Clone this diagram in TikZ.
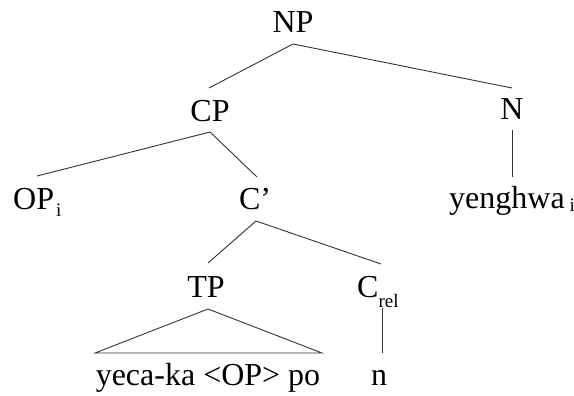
\documentclass[tikz,border=0pt]{standalone}
\usepackage{fontspec}
\setmainfont{Liberation Serif}
\newcommand\lowsub[2][6]{\raisebox{-#1pt}{\fontsize{19}{20}\selectfont #2}}
\begin{document}
\begin{tikzpicture}[x=1pt,y=-1pt,
  lbl/.style={anchor=base, inner sep=0pt, font=\fontsize{32}{38}\selectfont},
  edge/.style={line width=0.9pt, draw=black!80}]
\useasboundingbox (0,0) rectangle (574,396);
% labels
\node[lbl] (NP) at (293,33) {NP};
\node[lbl] (CP) at (210,122) {CP};
\node[lbl] (N) at (512,120) {N};
\node[lbl,anchor=base west] (OP) at (13,210) {OP\hspace{2pt}\lowsub{i}};
\node[lbl] (Cbar) at (255,209) {C'};
\node[lbl,anchor=base west] (yh) at (449,208) {yenghwa\hspace{5pt}\lowsub[3]{i}};
\node[lbl] (TP) at (206,297) {TP};
\node[lbl,anchor=base west] (Crel) at (357,297) {C\lowsub[10]{rel}};
\node[lbl] (yeca) at (208,385) {yeca-ka <OP> po};
\node[lbl] (n) at (379,385) {n};
% attachment points
\coordinate (NPb) at (293,44);
\coordinate (CPt) at (209,88);
\coordinate (Nt) at (512,88);
\coordinate (CPb) at (210,132);
\coordinate (OPt) at (37,176);
\coordinate (Cbart) at (257,177);
\coordinate (Cbarb) at (256,221);
\coordinate (TPt) at (208,263);
\coordinate (Crelt) at (381,264);
\coordinate (Nb) at (512,130);
\coordinate (yht) at (512,177);
\coordinate (Crelb) at (382,308);
\coordinate (nt) at (382,353);
\coordinate (TPb) at (208,309);
\coordinate (triL) at (95,353);
\coordinate (triR) at (322,353);
% edges
\draw[edge] (NPb) -- (CPt);
\draw[edge] (NPb) -- (Nt);
\draw[edge] (CPb) -- (OPt);
\draw[edge] (CPb) -- (Cbart);
\draw[edge] (Cbarb) -- (TPt);
\draw[edge] (Cbarb) -- (Crelt);
\draw[edge] (Nb) -- (yht);
\draw[edge] (Crelb) -- (nt);
\draw[edge] (TPb) -- (triL) -- (triR) -- cycle;
\end{tikzpicture}
\end{document}
